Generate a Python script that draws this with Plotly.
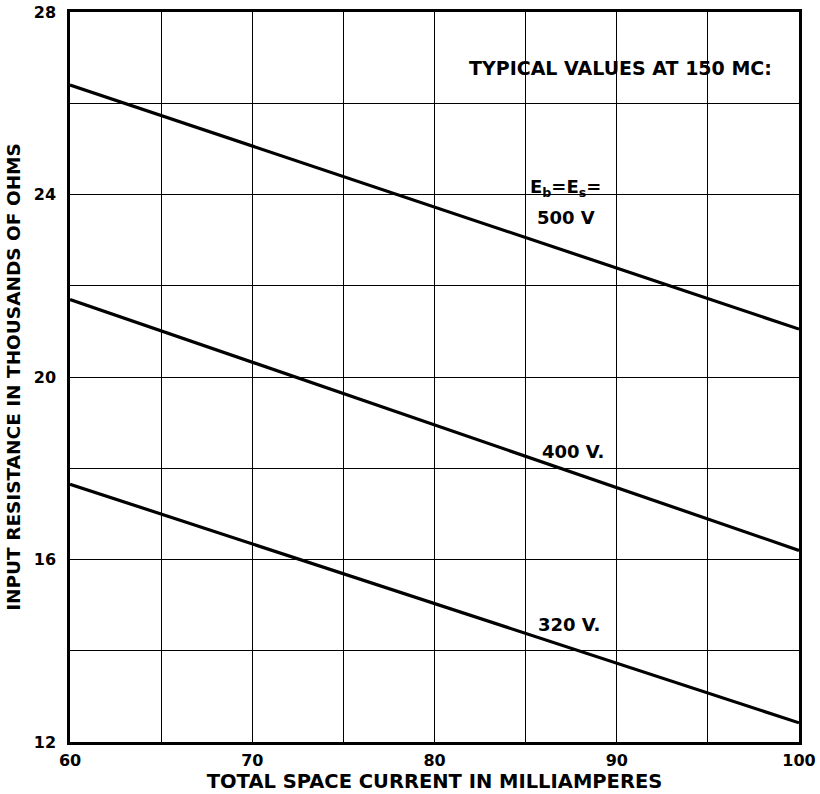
import plotly.graph_objects as go

current_ma = [60, 100]
r_500v = [26.4, 21.05]
r_400v = [21.7, 16.2]
r_320v = [17.65, 12.42]

x_ticks = [60, 70, 80, 90, 100]
y_ticks = [12, 16, 20, 24, 28]

FONT = "DejaVu Sans"

def bold(s):
    return "<b>" + s + "</b>"

fig = go.Figure()
for ys in (r_500v, r_400v, r_320v):
    fig.add_trace(go.Scatter(x=current_ma, y=ys, mode="lines",
                             line=dict(color="black", width=3.2),
                             showlegend=False, hoverinfo="skip"))

ann_font = dict(family=FONT, size=18, color="black")
fig.add_annotation(x=90.18, y=26.77, text=bold("TYPICAL VALUES AT 150 MC:"),
                   showarrow=False, font=dict(family=FONT, size=19, color="black"))
fig.add_annotation(x=87.2, y=24.14, text=bold("E<sub>b</sub>=E<sub>s</sub>="),
                   showarrow=False, font=dict(family=FONT, size=18, color="black"))
fig.add_annotation(x=87.2, y=23.5, text=bold("500 V"), showarrow=False, font=ann_font)
fig.add_annotation(x=87.6, y=18.37, text=bold("400 V."), showarrow=False, font=ann_font)
fig.add_annotation(x=87.4, y=14.58, text=bold("320 V."), showarrow=False, font=ann_font)

axis_common = dict(
    showline=True, linecolor="black", linewidth=2.5, mirror=True,
    showgrid=True, gridcolor="black", gridwidth=1.4,
    ticks="", zeroline=False, automargin=False,
    tickfont=dict(family=FONT, size=16, color="black", weight="bold"),
)

fig.update_xaxes(range=[60, 100], tickvals=x_ticks, ticklabelstandoff=2,
                 minor=dict(dtick=5, showgrid=True, gridcolor="black", gridwidth=1.4, ticks=""),
                 title=dict(text="TOTAL SPACE CURRENT IN MILLIAMPERES",
                            font=dict(family=FONT, size=19.5, color="black", weight="bold"),
                            standoff=4),
                 **axis_common)
fig.update_yaxes(range=[12, 28], tickvals=y_ticks, ticklabelstandoff=8,
                 minor=dict(dtick=2, showgrid=True, gridcolor="black", gridwidth=1.4, ticks=""),
                 title=dict(text="INPUT RESISTANCE IN THOUSANDS OF OHMS",
                            font=dict(family=FONT, size=18.5, color="black", weight="bold"),
                            standoff=9),
                 **axis_common)

fig.update_layout(
    width=820, height=794,
    margin=dict(l=70, r=21, t=12, b=52),
    plot_bgcolor="white", paper_bgcolor="white",
    font=dict(family=FONT, color="black"),
)

fig.write_html("out.html", config={"displayModeBar": False},
               post_script="document.body.style.margin='0';document.body.style.overflow='hidden';")
